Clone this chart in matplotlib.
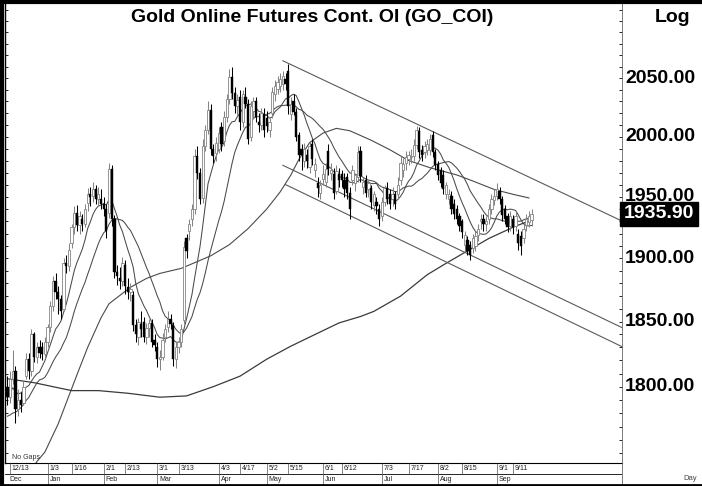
import numpy as np
import pandas as pd
import matplotlib
matplotlib.use("Agg")

import matplotlib.pyplot as plt
import matplotlib.ticker as mticker
from matplotlib.lines import Line2D
from matplotlib.transforms import blended_transform_factory


FONT = ["Liberation Sans", "DejaVu Sans"]

TITLE = "Gold Online Futures Cont. OI (GO_COI)"

FIRST_BAR = "2022-12-12"
LAST_BAR = "2023-09-20"
NO_TRADE_DAYS = [
    "2023-01-02", "2023-04-07", "2023-04-10",
    "2023-05-01", "2023-05-08", "2023-08-01",
]

# daily bars, one row per month (Dec .. Sep)
opens = [
    1800, 1792, 1806, 1812, 1783, 1790, 1788, 1808, 1821, 1812, 1840, 1823, 1830, 1830, 1825,
    1834, 1846, 1862, 1882, 1873, 1868, 1860, 1896, 1894, 1912, 1925, 1937, 1927, 1932, 1928, 1945, 1952, 1951, 1956, 1948, 1948,
    1944, 1940, 1937, 1973, 1932, 1889, 1884, 1882, 1895, 1877, 1873, 1871, 1847, 1838, 1848, 1850, 1838, 1845, 1849, 1836,
    1830, 1821, 1823, 1838, 1846, 1852, 1847, 1821, 1830, 1834, 1851, 1916, 1922, 1932, 1940, 1984, 1970, 1949, 1992, 2006, 2023, 1990, 1986,
    1990, 2008, 1996, 2017, 2032, 2051, 2037, 2026, 2034, 2012, 2034, 2028, 2000, 2022, 2030, 2012, 2010, 2019,
    2016, 2006, 2020, 2036, 2041, 2043, 2045, 2049, 2056, 2019, 2030, 2021, 2001, 1990, 1980, 1985, 1975, 1994, 1972, 1961, 1953,
    1965, 1962, 1988, 1970, 1969, 1955, 1969, 1969, 1964, 1966, 1953, 1964, 1961, 1966, 1988, 1958, 1964, 1956, 1957, 1943, 1946, 1940,
    1934, 1946, 1957, 1952, 1948, 1952, 1952, 1964, 1972, 1978, 1981, 1983, 1984, 1993, 2005, 1989, 1987, 1989, 1989, 2001, 1987,
    1977, 1972, 1968, 1952, 1948, 1951, 1944, 1940, 1934, 1930, 1911, 1915, 1911, 1908, 1910, 1919, 1930, 1932, 1928, 1932, 1940, 1947,
    1951, 1955, 1948, 1940, 1934, 1926, 1932, 1926, 1920, 1918, 1916, 1927, 1929, 1931,
]
highs = [
    1808, 1812, 1828, 1816, 1798, 1796, 1804, 1826, 1826, 1844, 1842, 1834, 1836, 1834, 1838,
    1848, 1866, 1886, 1888, 1878, 1871, 1900, 1903, 1912, 1928, 1942, 1943, 1938, 1936, 1944, 1957, 1958, 1962, 1960, 1958, 1956,
    1950, 1944, 1978, 1976, 1935, 1895, 1893, 1901, 1899, 1884, 1880, 1874, 1852, 1853, 1858, 1854, 1849, 1852, 1852, 1840,
    1834, 1828, 1841, 1848, 1858, 1856, 1850, 1834, 1838, 1848, 1914, 1920, 1932, 1944, 1990, 1992, 1974, 1998, 2010, 2030, 2028, 1994, 2000,
    2008, 2012, 2022, 2036, 2058, 2060, 2042, 2036, 2040, 2040, 2042, 2032, 2030, 2034, 2034, 2020, 2024, 2024,
    2022, 2016, 2042, 2048, 2052, 2054, 2056, 2054, 2062, 2034, 2036, 2024, 2004, 1994, 1995, 1990, 1996, 1998, 1982, 1966, 1964,
    1976, 1978, 1994, 1978, 1974, 1976, 1974, 1972, 1970, 1970, 1958, 1976, 1970, 1992, 1992, 1966, 1968, 1964, 1960, 1955, 1950, 1944,
    1950, 1960, 1962, 1956, 1958, 1955, 1966, 1984, 1982, 1988, 1988, 1990, 1998, 2009, 2008, 1993, 1996, 1998, 2002, 2005, 1990,
    1980, 1975, 1972, 1962, 1956, 1955, 1948, 1943, 1937, 1932, 1922, 1918, 1914, 1920, 1922, 1928, 1936, 1936, 1934, 1944, 1952, 1956,
    1961, 1958, 1951, 1943, 1937, 1938, 1935, 1938, 1924, 1922, 1928, 1936, 1938, 1940,
]
lows = [
    1786, 1788, 1802, 1773, 1778, 1781, 1786, 1806, 1806, 1808, 1819, 1818, 1822, 1820, 1822,
    1830, 1842, 1858, 1868, 1856, 1852, 1858, 1888, 1890, 1908, 1920, 1922, 1920, 1922, 1925, 1938, 1942, 1946, 1944, 1942, 1940,
    1934, 1916, 1933, 1926, 1884, 1879, 1876, 1878, 1872, 1868, 1866, 1843, 1834, 1832, 1838, 1834, 1833, 1838, 1830, 1827,
    1815, 1813, 1820, 1834, 1842, 1844, 1816, 1814, 1826, 1830, 1848, 1900, 1915, 1926, 1936, 1965, 1944, 1945, 1988, 2002, 1985, 1978, 1980,
    1986, 1988, 1992, 2012, 2028, 2032, 2020, 2018, 2006, 2008, 2024, 1994, 1996, 2016, 2012, 2004, 2006, 2000,
    2004, 2000, 2016, 2030, 2036, 2038, 2040, 2040, 2019, 2014, 2018, 1996, 1980, 1972, 1975, 1974, 1970, 1976, 1966, 1950, 1948,
    1960, 1958, 1968, 1964, 1948, 1952, 1958, 1958, 1950, 1948, 1932, 1960, 1955, 1962, 1962, 1952, 1950, 1950, 1940, 1938, 1936, 1926,
    1930, 1942, 1944, 1940, 1942, 1940, 1948, 1960, 1966, 1972, 1976, 1978, 1980, 1990, 1982, 1980, 1982, 1985, 1985, 1983, 1972,
    1964, 1958, 1952, 1948, 1944, 1936, 1932, 1928, 1922, 1916, 1906, 1903, 1899, 1904, 1906, 1914, 1924, 1922, 1922, 1928, 1936, 1943,
    1947, 1944, 1930, 1928, 1921, 1922, 1920, 1922, 1907, 1903, 1912, 1922, 1925, 1926,
]
closes = [
    1792, 1806, 1812, 1783, 1790, 1786, 1800, 1821, 1812, 1840, 1823, 1830, 1826, 1825, 1834,
    1846, 1862, 1882, 1873, 1868, 1858, 1896, 1894, 1907, 1925, 1937, 1927, 1934, 1928, 1940, 1952, 1950, 1956, 1948, 1952, 1944,
    1940, 1922, 1973, 1932, 1889, 1886, 1882, 1896, 1878, 1873, 1876, 1847, 1840, 1850, 1844, 1838, 1845, 1849, 1834, 1832,
    1821, 1823, 1836, 1844, 1852, 1848, 1821, 1830, 1834, 1844, 1909, 1906, 1928, 1940, 1984, 1970, 1948, 1992, 2006, 2023, 1990, 1984, 1995,
    2003, 1994, 2017, 2032, 2051, 2037, 2026, 2031, 2012, 2036, 2028, 1998, 2026, 2030, 2017, 2010, 2020, 2006,
    2009, 2012, 2038, 2043, 2047, 2049, 2052, 2045, 2026, 2028, 2021, 2000, 1985, 1985, 1990, 1980, 1992, 1981, 1977, 1957, 1960,
    1969, 1973, 1973, 1972, 1953, 1971, 1964, 1964, 1956, 1953, 1940, 1972, 1968, 1987, 1967, 1962, 1953, 1961, 1946, 1952, 1942, 1932,
    1946, 1957, 1948, 1944, 1952, 1944, 1960, 1978, 1977, 1983, 1985, 1984, 1993, 2006, 1987, 1985, 1992, 1994, 1998, 1987, 1976,
    1968, 1961, 1956, 1960, 1952, 1940, 1936, 1932, 1926, 1921, 1919, 1906, 1903, 1916, 1918, 1924, 1932, 1928, 1930, 1940, 1948, 1951,
    1956, 1948, 1935, 1932, 1925, 1934, 1925, 1934, 1912, 1910, 1924, 1932, 1934, 1935.90,
]

# closes before the first bar, only used to start the short averages
warmup_closes = [
    1787, 1784, 1771, 1761, 1748, 1750, 1760, 1765, 1765, 1751,
    1760, 1778, 1813, 1807, 1779, 1781, 1796, 1799, 1807,
]
FAST, SLOW = 10, 20

# long averages
ma50_dates = [
    "2022-12-21", "2022-12-27", "2022-12-30", "2023-01-09", "2023-01-18", "2023-01-24",
    "2023-01-31", "2023-02-03", "2023-02-15", "2023-02-23", "2023-03-02", "2023-03-14",
    "2023-03-29", "2023-04-11", "2023-04-20", "2023-05-02", "2023-05-10", "2023-05-16",
    "2023-05-19", "2023-05-25", "2023-06-01", "2023-06-08", "2023-06-15", "2023-06-27",
    "2023-07-06", "2023-07-17", "2023-07-27", "2023-08-11", "2023-08-21", "2023-08-31",
    "2023-09-11", "2023-09-19",
]
ma50_values = [
    1730, 1744, 1751, 1772, 1809, 1830, 1853, 1864, 1877, 1884, 1888, 1892,
    1902, 1911, 1924, 1940, 1954, 1968, 1981, 1995, 2003, 2007, 2005, 1997,
    1989, 1980, 1974, 1968, 1963, 1956, 1952, 1949,
]
ma200_dates = [
    "2022-12-12", "2022-12-26", "2023-01-16", "2023-01-30", "2023-02-14", "2023-03-02",
    "2023-03-16", "2023-03-30", "2023-04-17", "2023-05-02", "2023-05-16", "2023-05-26",
    "2023-06-09", "2023-06-21", "2023-06-28", "2023-07-12", "2023-07-26", "2023-08-07",
    "2023-08-17", "2023-08-29", "2023-09-12", "2023-09-19",
]
ma200_values = [
    1806, 1803, 1797, 1797, 1795, 1792, 1793, 1800, 1808, 1821, 1831, 1839,
    1849, 1854, 1858, 1870, 1887, 1896, 1906, 1916, 1926, 1930,
]

# trend channel: (start day, end day, start price, end price)
channel_lines = [
    ("2023-05-11", "2023-09-20", 2065.0, 1965.2),
    ("2023-05-11", "2023-09-20", 1976.0, 1879.3),
    ("2023-05-12", "2023-09-20", 1960.0, 1864.5),
]

day_labels = [
    "2022-12-13", "2023-01-03", "2023-01-16", "2023-02-01", "2023-02-13",
    "2023-03-01", "2023-03-13", "2023-04-03", "2023-04-17", "2023-05-02",
    "2023-05-15", "2023-06-01", "2023-06-12", "2023-07-03", "2023-07-17",
    "2023-08-02", "2023-08-15", "2023-09-01", "2023-09-11",
]
price_labels = [1800, 1850, 1900, 1950, 2000, 2050]
last_price = closes[-1]

UP_GRAY = "#858585"
LINE_GRAY = "#4a4a4a"


def main():
    dates = pd.bdate_range(FIRST_BAR, LAST_BAR).drop(pd.to_datetime(NO_TRADE_DAYS))
    assert len(dates) == len(closes) == len(opens) == len(highs) == len(lows)
    bar_of = {d: i for i, d in enumerate(dates)}

    def bars(days):
        return np.array([bar_of[pd.Timestamp(d)] for d in days])

    x = np.arange(len(dates))
    o, h, l, c = (np.array(v, dtype=float) for v in (opens, highs, lows, closes))

    W, H = 702, 486
    left, right, top, bottom = 5, 622, 4, 463
    xlim = (-0.9, 229.8)

    fig = plt.figure(figsize=(W / 100, H / 100), dpi=100)
    ax = fig.add_axes([left / W, 1 - bottom / H, (right - left) / W, (bottom - top) / H])
    ax.set_yscale("log")
    ax.set_xlim(*xlim)
    ax.set_ylim(1743, 2115)

    # averages
    full = pd.Series(warmup_closes + list(closes), dtype=float)
    skip = len(warmup_closes)
    for n in (FAST, SLOW):
        ma = full.rolling(n).mean().to_numpy()[skip:]
        ax.plot(x, ma, color=LINE_GRAY, lw=0.75, zorder=2)
    ax.plot(bars(ma50_dates), ma50_values, color=LINE_GRAY, lw=0.8, zorder=2)
    ax.plot(bars(ma200_dates), ma200_values, color="#3a3a3a", lw=0.9, zorder=2)

    # channel
    for start, end, p0, p1 in channel_lines:
        i0, i1 = bar_of[pd.Timestamp(start)], bar_of[pd.Timestamp(end)]
        k = (np.log(p1) - np.log(p0)) / (i1 - i0)
        xs = np.array([i0, xlim[1]])
        ax.plot(xs, p0 * np.exp(k * (xs - i0)), color="#5a5a5a", lw=0.8, zorder=2)

    # candles
    up = c >= o
    body_lo = np.minimum(o, c)
    body_h = np.maximum(np.abs(c - o), 0.8)
    ax.vlines(x[up], l[up], h[up], color=UP_GRAY, lw=0.75, zorder=3)
    ax.vlines(x[~up], l[~up], h[~up], color="black", lw=0.75, zorder=3)
    ax.bar(x[up], body_h[up], bottom=body_lo[up], width=0.85,
           color="white", edgecolor=UP_GRAY, linewidth=0.6, zorder=4)
    ax.bar(x[~up], body_h[~up], bottom=body_lo[~up], width=0.85,
           color="black", edgecolor="black", linewidth=0.3, zorder=4)

    # axes look
    ax.set_xticks([])
    ax.yaxis.set_major_locator(mticker.FixedLocator(np.arange(1750, 2120, 10)))
    ax.yaxis.set_major_formatter(mticker.NullFormatter())
    ax.yaxis.set_minor_locator(mticker.NullLocator())
    ax.tick_params(axis="y", direction="in", length=2.5, width=0.6,
                   left=True, right=True, labelleft=False, labelright=False)
    ax.spines["top"].set_visible(False)
    ax.spines["left"].set_linewidth(1.0)
    ax.spines["bottom"].set_linewidth(0.8)
    ax.spines["right"].set_color("#666666")
    ax.spines["right"].set_linewidth(0.6)

    trans = blended_transform_factory(ax.transAxes, ax.transData)
    for p in price_labels:
        ax.text(1.005, p, f"{p:.2f}", transform=trans, ha="left", va="center",
                fontsize=14, fontweight="bold", family=FONT, clip_on=False)
    ax.text(1.003, last_price, f"{last_price:.2f}", transform=trans, ha="left",
            va="center", fontsize=14, fontweight="bold", color="white",
            family=FONT, clip_on=False, zorder=10,
            bbox={"boxstyle": "square,pad=0.18", "fc": "black", "ec": "black"})

    fig.text(312 / W, 1 - 18 / H, TITLE, ha="center", va="center",
             fontsize=14, fontweight="bold", family=FONT)
    fig.text(690 / W, 1 - 18 / H, "Log", ha="right", va="center",
             fontsize=14, fontweight="bold", family=FONT)
    fig.text(12 / W, 1 - 457 / H, "No Gaps", ha="left", va="center",
             fontsize=5, family=FONT, color="#333333")
    fig.text(697 / W, 1 - 478 / H, "Day", ha="right", va="center",
             fontsize=5.5, family=FONT, color="#444444")

    # date strip
    axd = fig.add_axes([left / W, 1 - 485 / H, (right - left) / W, 22 / H])
    axd.set_xlim(*xlim)
    axd.set_ylim(0, 2)
    axd.axis("off")
    axd.axhline(1, color="black", lw=0.6)
    for d in day_labels:
        i = bar_of[pd.Timestamp(d)]
        axd.vlines(i, 1, 2, color="#555555", lw=0.5)
        ts = pd.Timestamp(d)
        axd.text(i + 0.7, 1.5, f"{ts.month}/{ts.day}", ha="left", va="center",
                 fontsize=5, family=FONT, color="#222222")
    month_first = pd.Series(np.arange(len(dates)), index=dates).groupby(
        [dates.year, dates.month]).first()
    for k, i in enumerate(month_first.to_numpy()):
        if k > 0:
            axd.vlines(i, 0, 1, color="#555555", lw=0.5)
        axd.text(i + 0.7, 0.5, dates[i].strftime("%b"), ha="left", va="center",
                 fontsize=5, family=FONT, color="#222222")

    # right column line and outer frame
    fig.add_artist(Line2D([right / W, right / W], [0, 1 - bottom / H],
                          color="#666666", lw=0.6))
    fig.add_artist(Line2D([2 / W, 2 / W], [0, 1], color="black", lw=3))
    fig.add_artist(Line2D([0, 1], [1 - 2 / H, 1 - 2 / H], color="black", lw=3))
    fig.add_artist(Line2D([0, 1], [1 / H, 1 / H], color="black", lw=2))

    fig.savefig("out.png", dpi=100)
    plt.close(fig)


if __name__ == "__main__":
    main()
